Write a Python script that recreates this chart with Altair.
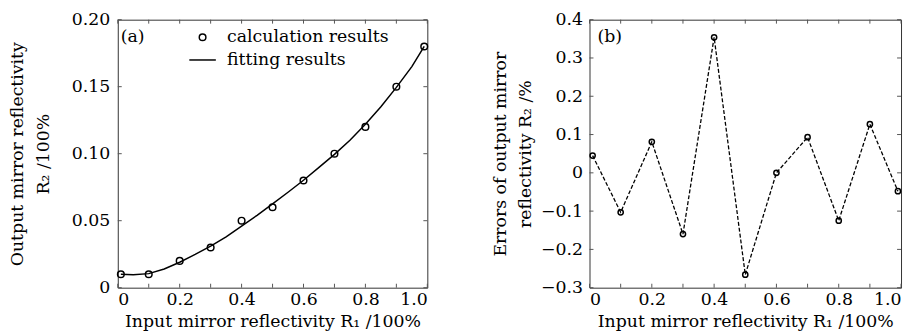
import altair as alt
import pandas as pd

# ---- data ----
r1 = [0.01, 0.1, 0.2, 0.3, 0.4, 0.5, 0.6, 0.7, 0.8, 0.9, 0.99]
r2_calc = [0.010, 0.010, 0.020, 0.030, 0.050, 0.060, 0.080, 0.100, 0.120, 0.150, 0.180]
fit_x = [0.01, 0.05, 0.1, 0.15, 0.2, 0.25, 0.3, 0.35, 0.4, 0.45, 0.5,
         0.55, 0.6, 0.65, 0.7, 0.75, 0.8, 0.85, 0.9, 0.95, 0.99]
fit_y = [0.0100, 0.0097, 0.0105, 0.0140, 0.0190, 0.0248, 0.0310, 0.0380, 0.0460, 0.0540, 0.0625,
         0.0712, 0.0802, 0.0898, 0.0995, 0.1100, 0.1220, 0.1350, 0.1495, 0.1650, 0.1800]
err = [0.045, -0.103, 0.081, -0.160, 0.354, -0.266, 0.000, 0.093, -0.125, 0.127, -0.048]

x_ticks = [0, 0.1, 0.2, 0.3, 0.4, 0.5, 0.6, 0.7, 0.8, 0.9, 1.0]
x_labels = [0, 0.2, 0.4, 0.6, 0.8, 1.0]
ya_ticks = [0, 0.05, 0.10, 0.15, 0.20]
yb_ticks = [-0.3, -0.2, -0.1, 0, 0.1, 0.2, 0.3, 0.4]
series = ["calculation results", "fitting results"]

FONT = "DejaVu Serif"
FS = 17.5
TICKLEN = 4
TICKCOL = "#555555"

WA, WB, H = 313, 315, 271


def xenc(field):
    return alt.X(field, type="quantitative",
                 scale=alt.Scale(domain=[0, 1], nice=False, zero=False),
                 axis=alt.Axis(values=x_labels, ticks=False, domain=False, grid=False,
                               labelExpr="datum.value == 0 ? '0' : format(datum.value, '.1f')",
                               labelPadding=3, titlePadding=5,
                               title="Input mirror reflectivity R\u2081 /100%"))


def yenc(field, domain, values, expr, title, tpad, lpad, lh):
    return alt.Y(field, type="quantitative",
                 scale=alt.Scale(domain=domain, nice=False, zero=False),
                 axis=alt.Axis(values=values, ticks=False, domain=False, grid=False,
                               labelExpr=expr, labelPadding=lpad, titlePadding=tpad,
                               titleLineHeight=lh, title=title))


def tick_layers(W, yfield_enc_fn, yvals):
    xt = pd.DataFrame({"t": x_ticks})
    yt = pd.DataFrame({"t": yvals})
    base_x = alt.Chart(xt).mark_rule(color=TICKCOL, strokeWidth=1)
    base_y = alt.Chart(yt).mark_rule(color=TICKCOL, strokeWidth=1)
    return [
        base_x.encode(x=xenc("t"), y=alt.value(0), y2=alt.value(TICKLEN)),
        base_x.encode(x=xenc("t"), y=alt.value(H - TICKLEN), y2=alt.value(H)),
        base_y.encode(y=yfield_enc_fn("t"), x=alt.value(0), x2=alt.value(TICKLEN)),
        base_y.encode(y=yfield_enc_fn("t"), x=alt.value(W - TICKLEN), x2=alt.value(W)),
    ]


# ---- panel (a) ----
ya_expr = "datum.value == 0 ? '0' : format(datum.value, '.2f')"


def ya(field):
    return yenc(field, [0, 0.2], ya_ticks, ya_expr,
                ["Output mirror reflectivity", "R\u2082 /100%"], 19, 8, 26)


df_calc = pd.DataFrame({"x": r1, "y": r2_calc, "s": series[0]})
df_fit = pd.DataFrame({"x": fit_x, "y": fit_y})

fit_line = alt.Chart(df_fit).mark_line(color="black", strokeWidth=1.5).encode(
    x=xenc("x"), y=ya("y"))

calc_pts = alt.Chart(df_calc).mark_point(filled=False, color="black", strokeWidth=1.5, size=45, opacity=1).encode(
    x=xenc("x"), y=ya("y"),
    shape=alt.Shape("s:N", scale=alt.Scale(domain=series, range=["circle", "M-4,0H4"]),
                    legend=alt.Legend(title=None, orient="none", legendX=77, legendY=9,
                                      labelFont=FONT, labelFontSize=FS, labelColor="black",
                                      labelLimit=400,
                                      symbolSize=45, symbolStrokeColor="black",
                                      symbolStrokeWidth=1.5, labelOffset=16,
                                      rowPadding=4, padding=0)))

label_a = alt.Chart(pd.DataFrame({"t": ["(a)"]})).mark_text(
    font=FONT, fontSize=FS, align="left", baseline="middle", color="black").encode(
    text="t:N", x=alt.value(3), y=alt.value(18))

panel_a = alt.layer(fit_line, calc_pts, *tick_layers(WA, ya, ya_ticks), label_a).properties(
    width=WA, height=H)

# ---- panel (b) ----
yb_expr = "datum.value == 0 ? '0' : format(datum.value, '.1f')"


def yb(field):
    return yenc(field, [-0.3, 0.4], yb_ticks, yb_expr,
                ["Errors of output mirror", "reflectivity R\u2082 /%"], 6, 7, 25)


df_err = pd.DataFrame({"x": r1, "y": err})
err_line = alt.Chart(df_err).mark_line(color="black", strokeWidth=1.3, strokeDash=[4, 2]).encode(
    x=xenc("x"), y=yb("y"))
err_pts = alt.Chart(df_err).mark_point(filled=False, color="black", strokeWidth=1.5, size=28, opacity=1).encode(
    x=xenc("x"), y=yb("y"))
label_b = alt.Chart(pd.DataFrame({"t": ["(b)"]})).mark_text(
    font=FONT, fontSize=FS, align="left", baseline="middle", color="black").encode(
    text="t:N", x=alt.value(8), y=alt.value(18))

panel_b = alt.layer(err_line, err_pts, *tick_layers(WB, yb, yb_ticks), label_b).properties(
    width=WB, height=H)

chart = alt.hconcat(panel_a, panel_b, spacing=61).properties(
    padding={"left": 0, "top": 0, "right": 0, "bottom": 0},
    background="white"
).configure_view(stroke="#333333", strokeWidth=1).configure_axis(
    labelFont=FONT, labelFontSize=FS, labelColor="black",
    titleFont=FONT, titleFontSize=FS, titleFontWeight="normal", titleColor="black"
)

chart.save("out.html", embed_options={"renderer": "svg", "actions": False})
